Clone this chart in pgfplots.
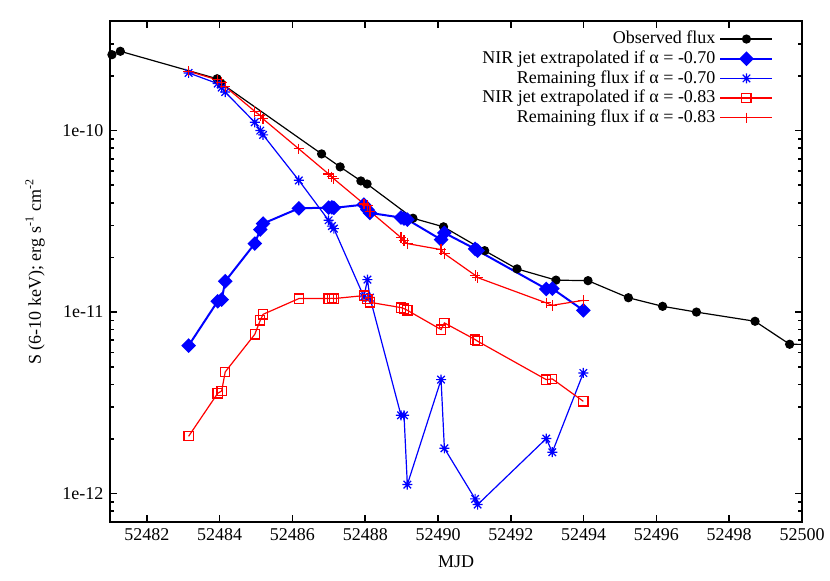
\documentclass[border=0pt]{standalone}
\usepackage{fontspec}
\setmainfont{Liberation Serif}
\usepackage{pgfplots}
\pgfplotsset{compat=1.18}
\pgfdeclareplotmark{gpstar}{%
  \pgfpathmoveto{\pgfqpoint{-\pgfplotmarksize}{0pt}}%
  \pgfpathlineto{\pgfqpoint{\pgfplotmarksize}{0pt}}%
  \pgfpathmoveto{\pgfqpoint{0pt}{-\pgfplotmarksize}}%
  \pgfpathlineto{\pgfqpoint{0pt}{\pgfplotmarksize}}%
  \pgfpathmoveto{\pgfqpoint{-.75\pgfplotmarksize}{-.75\pgfplotmarksize}}%
  \pgfpathlineto{\pgfqpoint{.75\pgfplotmarksize}{.75\pgfplotmarksize}}%
  \pgfpathmoveto{\pgfqpoint{-.75\pgfplotmarksize}{.75\pgfplotmarksize}}%
  \pgfpathlineto{\pgfqpoint{.75\pgfplotmarksize}{-.75\pgfplotmarksize}}%
  \pgfusepathqstroke}
\begin{document}
\begin{tikzpicture}
\begin{axis}[
  scale only axis, width=345.75pt, height=250.2pt,
  xmin=52481, xmax=52500, ymode=log, ymin=7e-13, ymax=4e-10,
  scaled x ticks=false,
  xtick={52482,52484,52486,52488,52490,52492,52494,52496,52498,52500},
  xticklabels={52482,52484,52486,52488,52490,52492,52494,52496,52498,52500},
  ytick={1e-12,1e-11,1e-10}, yticklabels={1e-12,1e-11,1e-10},
  minor ytick={8e-13,9e-13,2e-12,3e-12,4e-12,5e-12,6e-12,7e-12,8e-12,9e-12,2e-11,3e-11,4e-11,5e-11,6e-11,7e-11,8e-11,9e-11,2e-10,3e-10},
  tick align=inside, major tick length=3.5pt, minor tick length=2pt,
  axis line style={line width=1pt},
  every tick/.style={line width=0.8pt, black},
  font=\fontsize{9}{11}\selectfont,
  xlabel={MJD}, ylabel={S (6-10 keV); erg s\textsuperscript{-1} cm\textsuperscript{-2}},
  every axis x label/.style={at={(axis description cs:0.5,-0.0806)}, anchor=center},
  every axis y label/.style={at={(axis description cs:-0.109,0.5)}, rotate=90, anchor=center},
  legend style={draw=none, fill=none, at={(axis description cs:0.968,0.997)}, anchor=north east, font=\fontsize{9}{11}\selectfont, row sep=-2pt},
  legend plot pos=right, legend cell align=right,
  legend image code/.code={\draw[mark repeat=2,mark phase=2,#1] plot coordinates {(0pt,0pt) (13pt,0pt) (26pt,0pt)};},
]
\addplot[black, line width=0.6pt, mark=*, mark size=2pt] table {
52481.04 2.62e-10
52481.27 2.735e-10
52483.93 1.93e-10
52484.03 1.83e-10
52486.80 7.44e-11
52487.31 6.31e-11
52487.88 5.28e-11
52488.05 5.08e-11
52489.31 3.29e-11
52490.15 2.95e-11
52491.28 2.18e-11
52492.17 1.73e-11
52493.24 1.50e-11
52494.12 1.49e-11
52495.23 1.20e-11
52496.17 1.076e-11
52497.10 1.00e-11
52498.71 8.90e-12
52499.66 6.65e-12
52501.07 6.6e-12
};
\addlegendentry{Observed flux}
\addplot[blue, line width=1pt, mark=square*, mark size=2.1pt, mark options={rotate=45}] table {
52483.147 6.54e-12
52483.945 1.147e-11
52484.055 1.172e-11
52484.152 1.478e-11
52484.964 2.384e-11
52485.115 2.848e-11
52485.192 3.074e-11
52486.175 3.731e-11
52486.992 3.765e-11
52487.083 3.779e-11
52487.138 3.751e-11
52487.964 3.911e-11
52488.060 3.67e-11
52488.129 3.52e-11
52488.982 3.317e-11
52489.065 3.275e-11
52489.156 3.233e-11
52490.083 2.508e-11
52490.174 2.731e-11
52491.019 2.229e-11
52491.088 2.182e-11
52492.973 1.342e-11
52493.139 1.347e-11
52493.992 1.023e-11
};
\addlegendentry{NIR jet extrapolated if α = -0.70}
\addplot[blue, line width=0.6pt, mark=gpstar, mark size=2.5pt] table {
52483.147 2.079e-10
52483.945 1.815e-10
52484.055 1.726e-10
52484.152 1.630e-10
52484.964 1.111e-10
52485.115 1.0e-10
52485.192 9.47e-11
52486.175 5.32e-11
52486.992 3.204e-11
52487.083 2.977e-11
52487.138 2.884e-11
52487.964 1.213e-11
52488.060 1.51e-11
52488.129 1.202e-11
52488.982 2.70e-12
52489.065 2.70e-12
52489.156 1.121e-12
52490.083 4.245e-12
52490.174 1.777e-12
52491.019 9.35e-13
52491.088 8.70e-13
52492.973 2.01e-12
52493.139 1.69e-12
52493.992 4.62e-12
};
\addlegendentry{Remaining flux if α = -0.70}
\addplot[red, line width=0.6pt, mark=square, mark size=2.3pt] table {
52483.147 2.069e-12
52483.945 3.569e-12
52484.055 3.679e-12
52484.152 4.683e-12
52484.964 7.54e-12
52485.115 9.01e-12
52485.192 9.72e-12
52486.175 1.187e-11
52486.992 1.187e-11
52487.083 1.191e-11
52487.138 1.187e-11
52487.964 1.233e-11
52488.060 1.182e-11
52488.129 1.132e-11
52488.982 1.059e-11
52489.065 1.045e-11
52489.156 1.023e-11
52490.083 8.01e-12
52490.174 8.72e-12
52491.019 7.06e-12
52491.088 6.91e-12
52492.973 4.245e-12
52493.139 4.285e-12
52493.992 3.224e-12
};
\addlegendentry{NIR jet extrapolated if α = -0.83}
\addplot[red, line width=0.6pt, mark=+, mark size=2.6pt] table {
52483.147 2.122e-10
52483.945 1.903e-10
52484.055 1.839e-10
52484.152 1.748e-10
52484.964 1.277e-10
52485.115 1.209e-10
52485.192 1.160e-10
52486.175 7.93e-11
52486.992 5.77e-11
52487.083 5.56e-11
52487.138 5.42e-11
52487.964 3.946e-11
52488.060 3.862e-11
52488.129 3.592e-11
52488.982 2.573e-11
52489.065 2.477e-11
52489.156 2.384e-11
52490.083 2.21e-11
52490.174 2.10e-11
52491.019 1.595e-11
52491.088 1.549e-11
52492.973 1.124e-11
52493.139 1.090e-11
52493.992 1.161e-11
};
\addlegendentry{Remaining flux if α = -0.83}
\end{axis}
\pgfresetboundingbox
\path[use as bounding box] ([shift={(-55.25pt,-29.65pt)}]current axis.south west) rectangle ([shift={(14pt,10.65pt)}]current axis.north east);
\end{tikzpicture}
\end{document}
